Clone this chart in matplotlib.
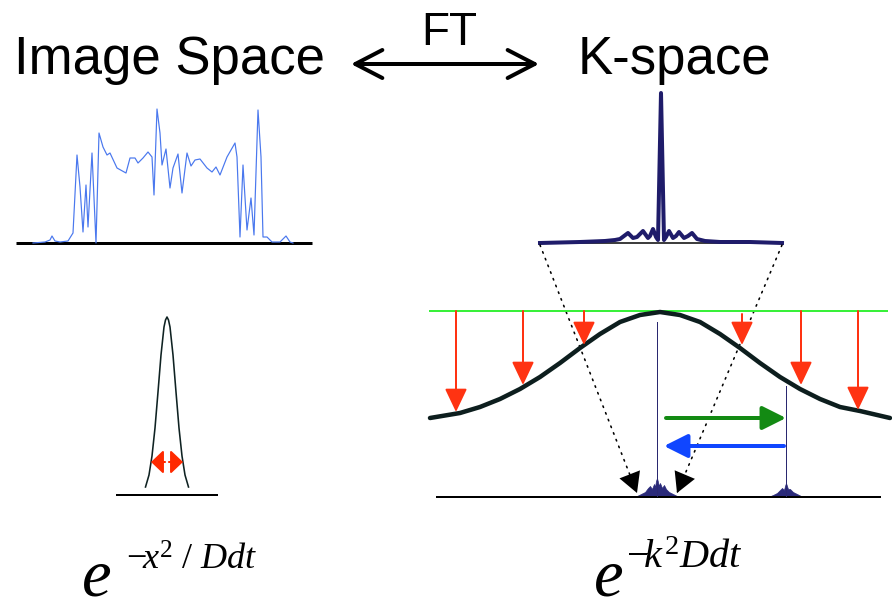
import matplotlib
matplotlib.use('Agg')
import matplotlib.pyplot as plt

# the diagram is laid out in pixel coordinates of the 892x611 picture
W, H = 892, 611

# image space profile, top left (x px, y px)
profile_x = [33, 45, 50, 52, 55, 60, 68, 73, 77, 80, 83, 86, 88, 92, 96, 99, 103, 107, 110,
             117, 126, 130, 135, 138, 143, 148, 152, 154, 157, 160, 162, 166, 170, 173, 178,
             182, 187, 191, 195, 200, 207, 212, 216, 220, 227, 235, 237, 240, 243, 247, 251,
             254, 258, 261, 263, 267, 272, 280, 286, 290, 293]
profile_y = [243, 242, 240, 236, 241, 242, 241, 233, 155, 187, 232, 185, 227, 153, 243, 133,
             147, 155, 153, 168, 173, 158, 158, 163, 158, 152, 157, 195, 109, 133, 165, 149,
             188, 168, 154, 193, 153, 166, 160, 159, 168, 172, 167, 175, 157, 143, 157, 237,
             165, 230, 198, 235, 110, 157, 237, 237, 242, 242, 236, 242, 243]

# k-space magnitude, top right
kspace_x = [540, 580, 605, 615, 620, 624, 628, 633, 637, 643, 648, 650, 653, 656, 658, 661,
            664, 666, 669, 673, 676, 679, 684, 688, 692, 697, 705, 720, 750, 782]
kspace_y = [243, 242, 241, 240, 239, 236, 233, 238, 237, 231, 238, 236, 229, 237, 240, 93,
            240, 237, 231, 238, 236, 232, 238, 236, 233, 239, 241, 242, 242, 243]

# diffusion kernel in image space
gauss_x = [145.5, 149, 152, 155, 158, 161, 164, 165.5, 167, 168.5, 170, 173, 176, 179, 182,
           185, 188.5]
gauss_y = [487, 475, 456, 428, 392, 355, 327, 320, 317, 320, 327, 355, 392, 428, 456, 475, 487]

# attenuation in k-space
kgauss_x = [430, 460, 480, 500, 520, 540, 560, 580, 600, 620, 640, 660, 680, 700, 720, 740,
            760, 780, 800, 820, 840, 860, 890]
kgauss_y = [418, 413, 407, 399, 389, 377, 363, 348, 334, 322, 315, 312, 315, 322, 334, 348,
            363, 377, 389, 399, 407, 411, 418]

# red arrows from the green line down to the curve
red_x = [456, 523, 584, 742, 801, 858]
red_top = [311, 311, 311, 314, 311, 311]
red_tip = [412, 385, 345, 345, 385, 410]

# small spectra on the k-space baseline
blob1_x = [637, 641, 645, 648, 650, 652, 654, 655, 656, 657, 658, 659, 660, 662, 664, 666, 669,
           673, 677]
blob1_y = [496, 494, 492, 488, 486, 489, 484, 487, 481, 478, 482, 486, 483, 488, 485, 489, 492,
           494, 496]
blob2_x = [768, 773, 777, 780, 782, 784, 785, 786, 787, 788, 790, 793, 797, 801, 805]
blob2_y = [497, 495, 493, 490, 488, 490, 486, 483, 486, 489, 489, 492, 494, 496, 497]

PX = 0.72  # points per pixel at dpi 100

plt.rcParams['mathtext.fontset'] = 'custom'
plt.rcParams['mathtext.rm'] = 'Liberation Serif'
plt.rcParams['mathtext.it'] = 'Liberation Serif:italic'


def arrow(ax, tip, tail, color, lw, hl, hw, style='-|>'):
    ax.annotate('', xy=tip, xytext=tail,
                arrowprops=dict(arrowstyle=f'{style},head_length={hl * PX / 10:.3f},'
                                           f'head_width={hw * PX / 10:.3f}',
                                lw=lw * PX, color=color, shrinkA=0, shrinkB=0,
                                mutation_scale=10))


fig = plt.figure(figsize=(W / 100, H / 100), dpi=100)
ax = fig.add_axes([0, 0, 1, 1])
ax.set_xlim(0, W)
ax.set_ylim(H, 0)
ax.axis('off')

sans = 'Liberation Sans'
ax.text(14, 74, 'Image Space', fontsize=38, family=sans, va='baseline')
ax.text(578, 74, 'K-space', fontsize=38, family=sans, va='baseline')
ax.text(421, 45, 'FT', fontsize=33, family=sans, va='baseline')
arrow(ax, (351, 64), (539, 64), 'black', 4, 27, 14, style='<->')

# image space profile
ax.plot([16, 312], [243, 243], color='black', lw=3 * PX, solid_capstyle='butt')
ax.plot(profile_x, profile_y, color='#4a78ee', lw=1.2 * PX)

# k-space profile
ax.plot([540, 782], [243, 243], color='black', lw=1.5 * PX)
ax.plot(kspace_x, kspace_y, color='#1f1c6a', lw=4 * PX, solid_joinstyle='round')

# dotted zoom lines with arrowheads
for x0, x1 in [(540, 637), (782, 677)]:
    ax.plot([x0, x1], [245, 493], color='black', lw=1.6 * PX, ls=(0, (1, 3.5)),
            dash_capstyle='round')
    arrow(ax, (x1, 493), (x0 + (x1 - x0) * 0.9, 245 + 248 * 0.9), 'black', 0, 20, 11)

# image space kernel
ax.plot([117, 217], [495, 495], color='black', lw=2 * PX)
ax.plot(gauss_x, gauss_y, color='#0f2222', lw=1.6 * PX)
for tx in [151, 183]:
    arrow(ax, (tx, 462), (167 + (tx - 167) * 0.12, 462), '#ff2a00', 2, 10.5, 10)

# k-space attenuation
ax.plot([430, 887], [311, 311], color='#39f03a', lw=2 * PX)
ax.plot(kgauss_x, kgauss_y, color='#0d1e1e', lw=4.5 * PX, solid_capstyle='round')
for x, y0, y1 in zip(red_x, red_top, red_tip):
    arrow(ax, (x, y1), (x, y0), '#ff3312', 2, 20, 9.5)

# k-space baseline, spectra and their centre lines
ax.plot([437, 880], [497, 497], color='black', lw=2 * PX)
ax.plot([657, 657], [322, 496], color='#2a2870', lw=1 * PX)
ax.plot([786, 786], [386, 496], color='#2a2870', lw=1 * PX)
ax.fill_between(blob1_x, blob1_y, 497, color='#2a2a7a', lw=0.5)
ax.fill_between(blob2_x, blob2_y, 497, color='#2a2a7a', lw=0.5)

# shift arrows
arrow(ax, (786, 418), (666, 418), '#138a13', 4, 20, 10)
arrow(ax, (664, 446), (784, 446), '#1046ff', 4, 20, 10)

# formulas (kept clear of the bottom edge)
ax.text(81, 596, r'$e$', fontsize=48, va='baseline')
ax.text(126, 570, r'$-\!x^{2}\ /\ Ddt$', fontsize=26, va='baseline')
ax.text(593, 596, r'$e$', fontsize=48, va='baseline')
ax.text(626, 568, r'$-\!k^{2}Ddt$', fontsize=29, va='baseline')

fig.savefig('out.png', dpi=100)
